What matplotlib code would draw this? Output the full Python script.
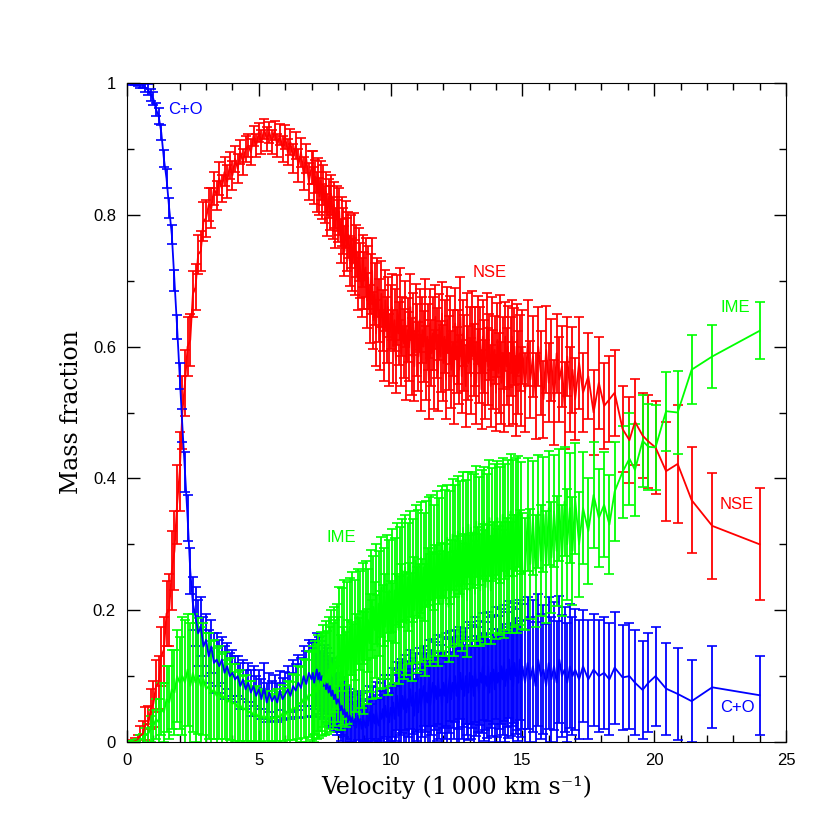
import numpy as np
import matplotlib
matplotlib.use('Agg')
import matplotlib.pyplot as plt
from matplotlib.ticker import MultipleLocator

# velocity bins (1000 km/s), shared by all three species
velocity = [0.1, 0.2, 0.3, 0.4, 0.5, 0.6, 0.7, 0.8, 0.9, 1.0,
            1.1, 1.2, 1.3, 1.4, 1.5, 1.6, 1.7, 1.8, 1.9, 2.0,
            2.1, 2.2, 2.3, 2.4, 2.5, 2.6, 2.7, 2.8, 2.9, 3.0,
            3.1, 3.2, 3.3, 3.4, 3.5, 3.6, 3.7, 3.8, 3.9, 4.0,
            4.1, 4.2, 4.3, 4.4, 4.5, 4.6, 4.7, 4.8, 4.9, 5.0,
            5.1, 5.2, 5.3, 5.4, 5.5, 5.6, 5.7, 5.8, 5.9, 6.0,
            6.1, 6.2, 6.3, 6.4, 6.5, 6.6, 6.7, 6.8, 6.9, 7.0,
            7.05, 7.1, 7.15, 7.2, 7.25, 7.3, 7.35, 7.4, 7.45, 7.5,
            7.55, 7.6, 7.65, 7.7, 7.75, 7.8, 7.85, 7.9, 7.95, 8.0,
            8.05, 8.1, 8.15, 8.2, 8.25, 8.3, 8.35, 8.4, 8.45, 8.5,
            8.55, 8.6, 8.65, 8.7, 8.75, 8.8, 8.85, 8.9, 8.95, 9.0,
            9.05, 9.1, 9.15, 9.2, 9.25, 9.3, 9.35, 9.4, 9.45, 9.5,
            9.55, 9.6, 9.65, 9.7, 9.75, 9.8, 9.85, 9.9, 9.95, 10.0,
            10.05, 10.1, 10.15, 10.2, 10.25, 10.3, 10.35, 10.4, 10.45, 10.5,
            10.55, 10.6, 10.65, 10.7, 10.75, 10.8, 10.85, 10.9, 10.95, 11.0,
            11.05, 11.1, 11.15, 11.2, 11.25, 11.3, 11.35, 11.4, 11.45, 11.5,
            11.55, 11.6, 11.65, 11.7, 11.75, 11.8, 11.85, 11.9, 11.95, 12.0,
            12.05, 12.1, 12.15, 12.2, 12.25, 12.3, 12.35, 12.4, 12.45, 12.5,
            12.55, 12.6, 12.65, 12.7, 12.75, 12.8, 12.85, 12.9, 12.95, 13.0,
            13.05, 13.1, 13.15, 13.2, 13.25, 13.3, 13.35, 13.4, 13.45, 13.5,
            13.55, 13.6, 13.65, 13.7, 13.75, 13.8, 13.85, 13.9, 13.95, 14.0,
            14.05, 14.1, 14.15, 14.2, 14.25, 14.3, 14.35, 14.4, 14.45, 14.5,
            14.55, 14.6, 14.65, 14.7, 14.75, 14.8, 14.85, 14.9, 14.95, 15.0,
            15.1, 15.2, 15.3, 15.4, 15.5, 15.6, 15.7, 15.8, 15.9, 16.0,
            16.1, 16.2, 16.3, 16.4, 16.5, 16.6, 16.7, 16.8, 16.9, 17.0,
            17.15, 17.3, 17.5, 17.7, 17.9, 18.1, 18.3,
            18.5, 18.8, 19.06, 19.27, 19.56, 19.78, 20.05, 20.45, 20.89, 21.42,
            22.2, 24.0]

nse = [0.0, 0.0, 0.001, 0.003, 0.01, 0.012, 0.028, 0.025, 0.05, 0.058,
       0.085, 0.09, 0.13, 0.14, 0.195, 0.2, 0.26, 0.29, 0.36, 0.41,
       0.5, 0.545, 0.6, 0.61, 0.68, 0.69, 0.74, 0.745, 0.79, 0.795,
       0.815, 0.81, 0.84, 0.83, 0.855, 0.84, 0.865, 0.85, 0.875, 0.86,
       0.885, 0.87, 0.895, 0.88, 0.9, 0.905, 0.895, 0.92, 0.905, 0.925,
       0.91, 0.93, 0.915, 0.925, 0.91, 0.928, 0.905, 0.922, 0.9, 0.918,
       0.895, 0.91, 0.885, 0.905, 0.875, 0.895, 0.862, 0.885, 0.85, 0.872,
       0.872, 0.845, 0.858, 0.835, 0.86, 0.828, 0.852, 0.82, 0.845, 0.815,
       0.835, 0.8, 0.825, 0.81, 0.83, 0.795, 0.815, 0.78, 0.81, 0.79,
       0.805, 0.76, 0.79, 0.775, 0.745, 0.785, 0.755, 0.77, 0.73, 0.76,
       0.725, 0.765, 0.72, 0.745, 0.7, 0.74, 0.715, 0.69, 0.73, 0.7,
       0.72, 0.67, 0.705, 0.65, 0.695, 0.715, 0.64, 0.68, 0.62, 0.69,
       0.655, 0.61, 0.68, 0.64, 0.6, 0.67, 0.625, 0.66, 0.595, 0.645,
       0.66, 0.6, 0.64, 0.58, 0.655, 0.62, 0.665, 0.59, 0.63, 0.605,
       0.65, 0.575, 0.625, 0.6, 0.66, 0.585, 0.635, 0.57, 0.645, 0.61,
       0.585, 0.64, 0.56, 0.625, 0.6, 0.655, 0.575, 0.615, 0.55, 0.635,
       0.59, 0.62, 0.565, 0.645, 0.605, 0.56, 0.63, 0.585, 0.65, 0.575,
       0.615, 0.55, 0.64, 0.59, 0.625, 0.565, 0.605, 0.545, 0.635, 0.58,
       0.6, 0.565, 0.645, 0.555, 0.62, 0.59, 0.54, 0.63, 0.575, 0.61,
       0.555, 0.635, 0.58, 0.6, 0.545, 0.625, 0.57, 0.61, 0.535, 0.615,
       0.585, 0.55, 0.63, 0.57, 0.6, 0.54, 0.62, 0.565, 0.595, 0.53,
       0.61, 0.56, 0.625, 0.545, 0.59, 0.53, 0.615, 0.57, 0.6, 0.535,
       0.585, 0.615, 0.545, 0.6, 0.525, 0.61, 0.56, 0.59, 0.54, 0.6,
       0.53, 0.605, 0.55, 0.585, 0.525, 0.6, 0.56, 0.52, 0.595, 0.545,
       0.58, 0.515, 0.59, 0.55, 0.57, 0.51, 0.585, 0.535, 0.565, 0.52,
       0.575, 0.53, 0.555, 0.5, 0.545, 0.51, 0.52,
       0.53, 0.475, 0.458, 0.486, 0.465, 0.456, 0.447, 0.411, 0.422, 0.367,
       0.328, 0.30]
nse_err = [0.002, 0.003, 0.005, 0.008, 0.015, 0.02, 0.025, 0.03, 0.03, 0.035,
           0.04, 0.04, 0.045, 0.05, 0.05, 0.055, 0.06, 0.06, 0.06, 0.06,
           0.055, 0.05, 0.045, 0.04, 0.035, 0.035, 0.03, 0.03, 0.03, 0.028,
           0.025, 0.03, 0.025, 0.022, 0.025, 0.02, 0.022, 0.025, 0.02, 0.022,
           0.02, 0.022, 0.018, 0.02, 0.02, 0.018, 0.02, 0.015, 0.018, 0.015,
           0.018, 0.015, 0.018, 0.016, 0.018, 0.015, 0.018, 0.016, 0.02, 0.018,
           0.02, 0.02, 0.022, 0.02, 0.025, 0.022, 0.025, 0.022, 0.028, 0.025,
           0.025, 0.028, 0.025, 0.03, 0.026, 0.028, 0.03, 0.027, 0.03, 0.028,
           0.03, 0.032, 0.03, 0.033, 0.03, 0.032, 0.035, 0.03, 0.034, 0.032,
           0.035, 0.033, 0.037, 0.035, 0.038, 0.036, 0.04, 0.035, 0.038, 0.04,
           0.04, 0.038, 0.042, 0.04, 0.044, 0.04, 0.042, 0.045, 0.04, 0.043,
           0.045, 0.042, 0.048, 0.044, 0.046, 0.05, 0.043, 0.047, 0.05, 0.045,
           0.048, 0.045, 0.05, 0.046, 0.052, 0.047, 0.05, 0.045, 0.055, 0.048,
           0.05, 0.055, 0.047, 0.05, 0.053, 0.048, 0.055, 0.05, 0.045, 0.052,
           0.05, 0.056, 0.048, 0.052, 0.05, 0.058, 0.047, 0.053, 0.05, 0.055,
           0.052, 0.048, 0.058, 0.05, 0.054, 0.047, 0.056, 0.05, 0.06, 0.052,
           0.05, 0.055, 0.06, 0.048, 0.053, 0.057, 0.05, 0.054, 0.048, 0.058,
           0.055, 0.06, 0.05, 0.056, 0.052, 0.058, 0.05, 0.062, 0.054, 0.05,
           0.056, 0.052, 0.06, 0.055, 0.05, 0.058, 0.062, 0.052, 0.056, 0.05,
           0.058, 0.05, 0.055, 0.06, 0.062, 0.052, 0.056, 0.05, 0.06, 0.055,
           0.055, 0.06, 0.052, 0.058, 0.05, 0.062, 0.055, 0.06, 0.052, 0.058,
           0.056, 0.06, 0.054, 0.062, 0.055, 0.06, 0.052, 0.058, 0.062, 0.055,
           0.06, 0.055, 0.062, 0.058, 0.06, 0.055, 0.063, 0.058, 0.06, 0.056,
           0.06, 0.065, 0.058, 0.062, 0.065, 0.06, 0.064, 0.058, 0.066, 0.06,
           0.062, 0.065, 0.06, 0.064, 0.062, 0.066, 0.06, 0.064, 0.065, 0.062,
           0.07, 0.06, 0.065, 0.065, 0.07, 0.065, 0.065,
           0.065, 0.065, 0.065, 0.065, 0.065, 0.07, 0.07, 0.075, 0.09, 0.08,
           0.08, 0.085]

ime = [0.0, 0.0, 0.0, 0.001, 0.004, 0.004, 0.01, 0.012, 0.02, 0.024,
       0.035, 0.03, 0.05, 0.045, 0.065, 0.06, 0.08, 0.075, 0.1, 0.09,
       0.1, 0.09, 0.11, 0.085, 0.105, 0.09, 0.1, 0.085, 0.095, 0.08,
       0.085, 0.075, 0.08, 0.07, 0.075, 0.065, 0.07, 0.06, 0.065, 0.058,
       0.06, 0.052, 0.056, 0.048, 0.052, 0.044, 0.047, 0.04, 0.043, 0.037,
       0.04, 0.034, 0.04, 0.033, 0.039, 0.035, 0.041, 0.036, 0.044, 0.04,
       0.048, 0.044, 0.053, 0.05, 0.06, 0.057, 0.066, 0.062, 0.073, 0.07,
       0.078, 0.07, 0.083, 0.076, 0.09, 0.08, 0.092, 0.085, 0.1, 0.088,
       0.105, 0.09, 0.11, 0.095, 0.12, 0.1, 0.125, 0.105, 0.13, 0.11,
       0.16, 0.09, 0.155, 0.1, 0.17, 0.095, 0.165, 0.11, 0.175, 0.105,
       0.18, 0.105, 0.17, 0.12, 0.19, 0.11, 0.185, 0.125, 0.195, 0.12,
       0.2, 0.13, 0.185, 0.15, 0.215, 0.14, 0.205, 0.17, 0.225, 0.145,
       0.21, 0.155, 0.235, 0.16, 0.22, 0.175, 0.24, 0.15, 0.23, 0.165,
       0.245, 0.165, 0.23, 0.18, 0.255, 0.17, 0.25, 0.19, 0.26, 0.175,
       0.265, 0.18, 0.25, 0.195, 0.27, 0.175, 0.26, 0.2, 0.275, 0.185,
       0.27, 0.19, 0.28, 0.2, 0.265, 0.185, 0.285, 0.21, 0.29, 0.2,
       0.295, 0.205, 0.28, 0.215, 0.3, 0.2, 0.29, 0.22, 0.305, 0.21,
       0.3, 0.215, 0.31, 0.205, 0.295, 0.225, 0.315, 0.21, 0.305, 0.23,
       0.32, 0.225, 0.31, 0.22, 0.325, 0.235, 0.315, 0.215, 0.33, 0.23,
       0.325, 0.235, 0.32, 0.225, 0.335, 0.24, 0.32, 0.23, 0.33, 0.245,
       0.335, 0.235, 0.325, 0.245, 0.34, 0.23, 0.33, 0.25, 0.335, 0.24,
       0.34, 0.245, 0.33, 0.25, 0.345, 0.24, 0.335, 0.255, 0.34, 0.25,
       0.35, 0.25, 0.34, 0.26, 0.345, 0.255, 0.35, 0.265, 0.34, 0.26,
       0.255, 0.345, 0.27, 0.34, 0.26, 0.35, 0.275, 0.345, 0.265, 0.355,
       0.28, 0.35, 0.29, 0.36, 0.275, 0.365, 0.3, 0.355, 0.29, 0.37,
       0.3, 0.355, 0.32, 0.375, 0.34, 0.36, 0.33,
       0.38, 0.41, 0.43, 0.413, 0.457, 0.448, 0.447, 0.502, 0.50, 0.565,
       0.585, 0.624]
ime_err = [0.002, 0.002, 0.003, 0.004, 0.006, 0.008, 0.012, 0.015, 0.02, 0.025,
           0.03, 0.035, 0.04, 0.045, 0.05, 0.055, 0.06, 0.065, 0.07, 0.07,
           0.09, 0.095, 0.085, 0.095, 0.09, 0.09, 0.088, 0.09, 0.085, 0.085,
           0.08, 0.078, 0.075, 0.072, 0.07, 0.068, 0.066, 0.064, 0.062, 0.06,
           0.058, 0.055, 0.054, 0.052, 0.05, 0.048, 0.046, 0.044, 0.042, 0.04,
           0.04, 0.038, 0.038, 0.037, 0.038, 0.038, 0.04, 0.04, 0.042, 0.042,
           0.045, 0.047, 0.05, 0.052, 0.055, 0.057, 0.06, 0.062, 0.065, 0.067,
           0.068, 0.07, 0.071, 0.072, 0.073, 0.074, 0.075, 0.076, 0.077, 0.078,
           0.078, 0.078, 0.079, 0.08, 0.08, 0.08, 0.08, 0.08, 0.08, 0.08,
           0.075, 0.072, 0.078, 0.074, 0.076, 0.072, 0.078, 0.075, 0.074, 0.077,
           0.078, 0.074, 0.076, 0.075, 0.072, 0.078, 0.075, 0.074, 0.076, 0.078,
           0.075, 0.072, 0.078, 0.074, 0.076, 0.075, 0.078, 0.073, 0.076, 0.078,
           0.08, 0.074, 0.076, 0.078, 0.075, 0.08, 0.074, 0.078, 0.076, 0.08,
           0.078, 0.076, 0.08, 0.075, 0.078, 0.082, 0.076, 0.08, 0.078, 0.08,
           0.08, 0.078, 0.082, 0.076, 0.08, 0.082, 0.078, 0.08, 0.084, 0.08,
           0.082, 0.08, 0.084, 0.078, 0.082, 0.085, 0.08, 0.084, 0.082, 0.085,
           0.08, 0.083, 0.079, 0.084, 0.081, 0.085, 0.08, 0.082, 0.084, 0.08,
           0.082, 0.085, 0.08, 0.083, 0.086, 0.081, 0.084, 0.08, 0.085, 0.082,
           0.084, 0.08, 0.086, 0.082, 0.085, 0.081, 0.083, 0.086, 0.08, 0.084,
           0.085, 0.082, 0.086, 0.08, 0.084, 0.087, 0.082, 0.085, 0.083, 0.086,
           0.083, 0.086, 0.081, 0.085, 0.088, 0.082, 0.086, 0.084, 0.087, 0.083,
           0.086, 0.083, 0.088, 0.084, 0.086, 0.082, 0.087, 0.085, 0.088, 0.084,
           0.087, 0.084, 0.088, 0.085, 0.086, 0.089, 0.084, 0.087, 0.085, 0.088,
           0.085, 0.086, 0.084, 0.087, 0.085, 0.086, 0.084, 0.087, 0.085, 0.086,
           0.084, 0.085, 0.083, 0.085, 0.084, 0.082, 0.084, 0.083, 0.082, 0.084,
           0.08, 0.085, 0.08, 0.08, 0.075, 0.08, 0.075,
           0.075, 0.07, 0.07, 0.07, 0.07, 0.065, 0.065, 0.06, 0.063, 0.052,
           0.048, 0.043]

co = [1.0, 1.0, 1.0, 0.999, 0.997, 0.998, 0.993, 0.99, 0.982, 0.976,
      0.96, 0.95, 0.925, 0.885, 0.855, 0.81, 0.77, 0.7, 0.63, 0.555,
      0.48, 0.41, 0.34, 0.26, 0.21, 0.19, 0.165, 0.175, 0.145, 0.155,
      0.13, 0.145, 0.12, 0.125, 0.115, 0.125, 0.105, 0.115, 0.1, 0.105,
      0.095, 0.1, 0.085, 0.095, 0.08, 0.09, 0.075, 0.085, 0.07, 0.08,
      0.065, 0.085, 0.06, 0.075, 0.062, 0.07, 0.06, 0.078, 0.065, 0.072,
      0.08, 0.07, 0.085, 0.078, 0.09, 0.082, 0.1, 0.088, 0.105, 0.095,
      0.105, 0.09, 0.1, 0.11, 0.095, 0.105, 0.088, 0.1, 0.085, 0.095,
      0.08, 0.09, 0.075, 0.085, 0.07, 0.078, 0.065, 0.072, 0.058, 0.065,
      0.06, 0.048, 0.055, 0.042, 0.05, 0.038, 0.045, 0.032, 0.04, 0.03,
      0.038, 0.025, 0.035, 0.022, 0.04, 0.028, 0.035, 0.02, 0.038, 0.03,
      0.022, 0.04, 0.025, 0.045, 0.03, 0.02, 0.042, 0.028, 0.048, 0.032,
      0.025, 0.045, 0.035, 0.05, 0.028, 0.055, 0.038, 0.048, 0.03, 0.052,
      0.04, 0.06, 0.035, 0.055, 0.07, 0.04, 0.065, 0.045, 0.07, 0.05,
      0.075, 0.045, 0.065, 0.05, 0.08, 0.055, 0.07, 0.04, 0.075, 0.06,
      0.045, 0.08, 0.055, 0.07, 0.085, 0.05, 0.075, 0.06, 0.09, 0.055,
      0.075, 0.09, 0.06, 0.085, 0.065, 0.095, 0.07, 0.08, 0.055, 0.09,
      0.07, 0.095, 0.06, 0.085, 0.1, 0.065, 0.09, 0.075, 0.1, 0.07,
      0.09, 0.065, 0.105, 0.08, 0.095, 0.07, 0.1, 0.085, 0.075, 0.105,
      0.08, 0.1, 0.07, 0.11, 0.085, 0.095, 0.075, 0.105, 0.09, 0.115,
      0.08, 0.1, 0.085, 0.115, 0.075, 0.105, 0.09, 0.11, 0.08, 0.12,
      0.09, 0.105, 0.08, 0.115, 0.095, 0.12, 0.085, 0.11, 0.09, 0.125,
      0.095, 0.115, 0.085, 0.12, 0.1, 0.11, 0.09, 0.125, 0.095, 0.115,
      0.09, 0.12, 0.095, 0.115, 0.085, 0.125, 0.1, 0.11, 0.085, 0.12,
      0.095, 0.115, 0.09, 0.125, 0.1, 0.11, 0.09, 0.115, 0.1, 0.11,
      0.095, 0.115, 0.095, 0.11, 0.1, 0.105, 0.095,
      0.113, 0.098, 0.1, 0.09, 0.079, 0.09, 0.1, 0.081, 0.073, 0.062,
      0.083, 0.071]
co_err = [0.002, 0.003, 0.003, 0.004, 0.005, 0.006, 0.007, 0.008, 0.009, 0.01,
          0.01, 0.012, 0.012, 0.013, 0.014, 0.015, 0.015, 0.016, 0.018, 0.02,
          0.025, 0.03, 0.035, 0.035, 0.04, 0.045, 0.05, 0.045, 0.045, 0.04,
          0.04, 0.04, 0.045, 0.04, 0.04, 0.035, 0.04, 0.035, 0.035, 0.035,
          0.035, 0.03, 0.035, 0.03, 0.03, 0.03, 0.035, 0.03, 0.03, 0.03,
          0.03, 0.035, 0.03, 0.03, 0.03, 0.032, 0.03, 0.03, 0.032, 0.035,
          0.035, 0.035, 0.04, 0.04, 0.042, 0.045, 0.045, 0.05, 0.05, 0.055,
          0.05, 0.052, 0.05, 0.055, 0.052, 0.055, 0.05, 0.053, 0.05, 0.052,
          0.05, 0.052, 0.05, 0.05, 0.048, 0.05, 0.048, 0.05, 0.047, 0.05,
          0.045, 0.047, 0.044, 0.045, 0.042, 0.044, 0.04, 0.042, 0.04, 0.038,
          0.038, 0.036, 0.038, 0.035, 0.037, 0.035, 0.036, 0.034, 0.036, 0.035,
          0.036, 0.038, 0.037, 0.04, 0.038, 0.037, 0.041, 0.039, 0.043, 0.04,
          0.04, 0.044, 0.042, 0.046, 0.043, 0.047, 0.044, 0.048, 0.045, 0.05,
          0.048, 0.052, 0.05, 0.054, 0.052, 0.05, 0.055, 0.052, 0.056, 0.054,
          0.057, 0.054, 0.058, 0.055, 0.06, 0.056, 0.058, 0.055, 0.06, 0.058,
          0.058, 0.062, 0.058, 0.063, 0.06, 0.064, 0.06, 0.063, 0.065, 0.061,
          0.064, 0.066, 0.062, 0.067, 0.064, 0.068, 0.065, 0.067, 0.064, 0.069,
          0.066, 0.07, 0.067, 0.071, 0.068, 0.072, 0.069, 0.071, 0.07, 0.073,
          0.071, 0.074, 0.07, 0.075, 0.072, 0.076, 0.073, 0.075, 0.072, 0.077,
          0.075, 0.078, 0.074, 0.079, 0.076, 0.08, 0.077, 0.079, 0.076, 0.081,
          0.078, 0.082, 0.079, 0.083, 0.08, 0.084, 0.081, 0.083, 0.08, 0.085,
          0.082, 0.086, 0.083, 0.087, 0.084, 0.088, 0.085, 0.087, 0.084, 0.089,
          0.086, 0.09, 0.087, 0.091, 0.088, 0.092, 0.089, 0.091, 0.088, 0.095,
          0.095, 0.1, 0.095, 0.1, 0.097, 0.1, 0.095, 0.098, 0.094, 0.1,
          0.095, 0.097, 0.093, 0.096, 0.092, 0.095, 0.09, 0.094, 0.09, 0.092,
          0.09, 0.085, 0.09, 0.085, 0.085, 0.085, 0.085,
          0.085, 0.08, 0.08, 0.08, 0.075, 0.075, 0.075, 0.07, 0.07, 0.062,
          0.062, 0.06]

for s in (nse, nse_err, ime, ime_err, co, co_err):
    assert len(s) == len(velocity), len(s)

fig = plt.figure(figsize=(8.3, 8.3), dpi=100)
ax = fig.add_axes([0.153, 0.106, 0.794, 0.794])

kw = dict(lw=1.3, elinewidth=1.3, capsize=3.5, capthick=1.2)
ax.errorbar(velocity, nse, yerr=nse_err, color='#ff0000', **kw)
ax.errorbar(velocity, co, yerr=co_err, color='#0000ff', **kw)
ax.errorbar(velocity, ime, yerr=ime_err, color='#00ff00', **kw)

lab = dict(fontsize=12, family='Liberation Sans', va='center')
ax.text(1.55, 0.96, 'C+O', color='#0000ff', **lab)
ax.text(13.1, 0.713, 'NSE', color='#ff0000', **lab)
ax.text(22.5, 0.66, 'IME', color='#00ff00', **lab)
ax.text(22.5, 0.36, 'NSE', color='#ff0000', **lab)
ax.text(7.55, 0.311, 'IME', color='#00ff00', **lab)
ax.text(22.5, 0.052, 'C+O', color='#0000ff', **lab)

ax.set_xlim(0, 25)
ax.set_ylim(0, 1)
ax.xaxis.set_major_locator(MultipleLocator(5))
ax.xaxis.set_minor_locator(MultipleLocator(1))
ax.yaxis.set_major_locator(MultipleLocator(0.2))
ax.yaxis.set_minor_locator(MultipleLocator(0.1))
ax.set_yticks([0, 0.2, 0.4, 0.6, 0.8, 1.0])
ax.set_yticklabels(['0', '0.2', '0.4', '0.6', '0.8', '1'])
ax.tick_params(which='both', direction='in', top=True, right=True)
ax.tick_params(which='major', length=9, width=1)
ax.tick_params(which='minor', length=5, width=1)
for t in ax.get_xticklabels() + ax.get_yticklabels():
    t.set_family('Liberation Sans')
    t.set_fontsize(12)
ax.tick_params(axis='x', pad=8)
ax.tick_params(axis='y', pad=8)

ax.set_xlabel('Velocity (1\u2009000 km s\u207b\u00b9)', family='DejaVu Serif', fontsize=17, labelpad=5)
ax.set_ylabel('Mass fraction', family='DejaVu Serif', fontsize=17, labelpad=7)

fig.savefig('out.png', dpi=100)
